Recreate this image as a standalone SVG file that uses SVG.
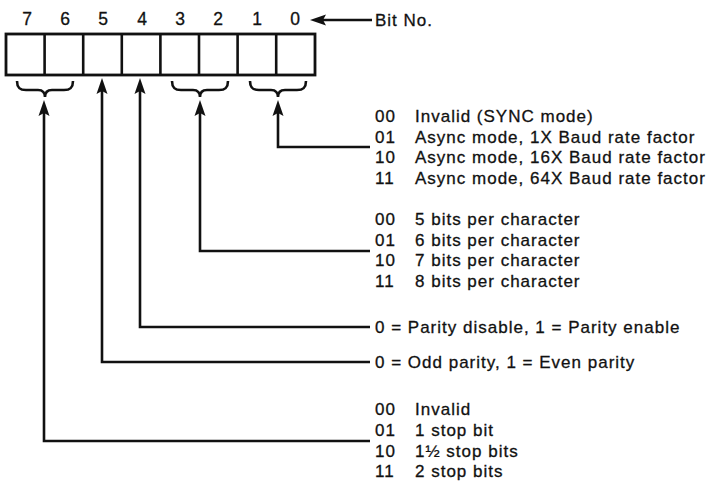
<svg xmlns="http://www.w3.org/2000/svg" xmlns:xlink="http://www.w3.org/1999/xlink" width="712" height="482" viewBox="0 0 712 482">
<style>
  text { font-family: "Liberation Sans", Arial, sans-serif; font-size: 17px; fill: #111; stroke: #111; stroke-width: 0.3; }
  .num { text-anchor: middle; font-size: 17.5px; }
  .lbl { letter-spacing: 1px; }
  .ln { fill: none; stroke: #111; stroke-width: 2.6; stroke-linejoin: miter; }
  .box { fill: #fff; stroke: #111; stroke-width: 2.8; }
  .brace { fill: none; stroke: #111; stroke-width: 2.6; }
</style>
<defs>
  <marker id="ah" markerUnits="userSpaceOnUse" markerWidth="20" markerHeight="20" viewBox="-10 -10 20 20" refX="0" refY="0" orient="auto" overflow="visible">
    <path d="M8,0 L-8,-5.5 L-5,0 L-8,5.5 Z" fill="#111"/>
  </marker>
  <path id="br" d="M-28,81 C-28,88 -25,90 -19,90 L-7,90 C-2,90 0,93 0,97 C0,93 2,90 7,90 L19,90 C25,90 28,88 28,81"/>
</defs>
<rect width="712" height="482" fill="#fff"/>

<g id="bit-numbers">
  <text class="num" x="27" y="25">7</text>
  <text class="num" x="65" y="25">6</text>
  <text class="num" x="103" y="25">5</text>
  <text class="num" x="142" y="25">4</text>
  <text class="num" x="180" y="25">3</text>
  <text class="num" x="218" y="25">2</text>
  <text class="num" x="257" y="25">1</text>
  <text class="num" x="295" y="25">0</text>
</g>

<g id="bit-no-label">
  <text class="lbl" x="375" y="26">Bit No.</text>
</g>

<g id="register">
  <rect class="box" x="6" y="34" width="309" height="41"/>
  <path class="ln" d="M44.6,34V75 M83.2,34V75 M121.8,34V75 M160.4,34V75 M199,34V75 M237.6,34V75 M276.2,34V75"/>
</g>

<g id="braces" class="brace">
  <use xlink:href="#br" href="#br" transform="translate(45,0)"/>
  <use xlink:href="#br" href="#br" transform="translate(200,0)"/>
  <use xlink:href="#br" href="#br" transform="translate(278,0)"/>
</g>

<g id="connectors">
  <path class="ln" d="M372,20 H318" marker-end="url(#ah)"/>
  <path class="ln" d="M370,147 H278 V108" marker-end="url(#ah)"/>
  <path class="ln" d="M370,251 H200 V108" marker-end="url(#ah)"/>
  <path class="ln" d="M370,327 H140 V86" marker-end="url(#ah)"/>
  <path class="ln" d="M370,362 H102 V86" marker-end="url(#ah)"/>
  <path class="ln" d="M370,441 H44 V108" marker-end="url(#ah)"/>
</g>

<g id="mode-bits">
  <text class="lbl" x="375" y="122">00</text><text class="lbl" x="415" y="122">Invalid (SYNC mode)</text>
  <text class="lbl" x="375" y="142.5">01</text><text class="lbl" x="415" y="142.5">Async mode, 1X Baud rate factor</text>
  <text class="lbl" x="375" y="163">10</text><text class="lbl" x="415" y="163">Async mode, 16X Baud rate factor</text>
  <text class="lbl" x="375" y="183.5">11</text><text class="lbl" x="415" y="183.5">Async mode, 64X Baud rate factor</text>
</g>

<g id="char-length">
  <text class="lbl" x="375" y="225">00</text><text class="lbl" x="415" y="225">5 bits per character</text>
  <text class="lbl" x="375" y="245.5">01</text><text class="lbl" x="415" y="245.5">6 bits per character</text>
  <text class="lbl" x="375" y="266">10</text><text class="lbl" x="415" y="266">7 bits per character</text>
  <text class="lbl" x="375" y="286.5">11</text><text class="lbl" x="415" y="286.5">8 bits per character</text>
</g>

<g id="parity-enable">
  <text class="lbl" x="375" y="333">0 = Parity disable, 1 = Parity enable</text>
</g>

<g id="parity-type">
  <text class="lbl" x="375" y="368">0 = Odd parity, 1 = Even parity</text>
</g>

<g id="stop-bits">
  <text class="lbl" x="375" y="415">00</text><text class="lbl" x="415" y="415">Invalid</text>
  <text class="lbl" x="375" y="436">01</text><text class="lbl" x="415" y="436">1 stop bit</text>
  <text class="lbl" x="375" y="456.5">10</text><text class="lbl" x="415" y="456.5">1½ stop bits</text>
  <text class="lbl" x="375" y="477">11</text><text class="lbl" x="415" y="477">2 stop bits</text>
</g>
</svg>
